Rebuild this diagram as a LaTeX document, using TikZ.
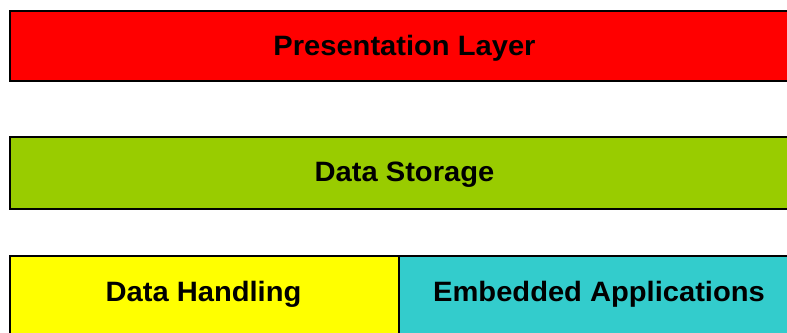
\documentclass[tikz,border=0pt]{standalone}
\usepackage{fontspec}
\newfontfamily\lab{Liberation Sans}[FakeStretch=1.04]
\definecolor{layred}{HTML}{FF0000}
\definecolor{laygreen}{HTML}{99CC00}
\definecolor{layyellow}{HTML}{FFFF00}
\definecolor{layteal}{HTML}{33CCCC}
\begin{document}
\begin{tikzpicture}[x=1pt,y=-1pt,
  box/.style={draw=black, line width=2pt, inner sep=0pt, anchor=north west},
  txt/.style={font=\lab\bfseries\fontsize{28}{33}\selectfont, text=black, anchor=base, inner sep=0pt}]
\useasboundingbox (0,0) rectangle (787,332);
\clip (0,0) rectangle (787,332);
\node[box, fill=layred, minimum width=791pt, minimum height=70pt] (pres) at (9,10) {};
\node[txt] (prest) at (404.5,55) {Presentation Layer};
\node[box, fill=laygreen, minimum width=791pt, minimum height=72pt] (stor) at (9,136) {};
\node[txt] (stort) at (404.5,181) {Data Storage};
\node[box, fill=layyellow, minimum width=389pt, minimum height=100pt] (hand) at (9,255) {};
\node[txt] (handt) at (203.5,301) {Data Handling};
\node[box, fill=layteal, minimum width=402pt, minimum height=100pt] (emb) at (398,255) {};
\node[txt] (embt) at (599,301) {Embedded Applications};
\end{tikzpicture}
\end{document}
